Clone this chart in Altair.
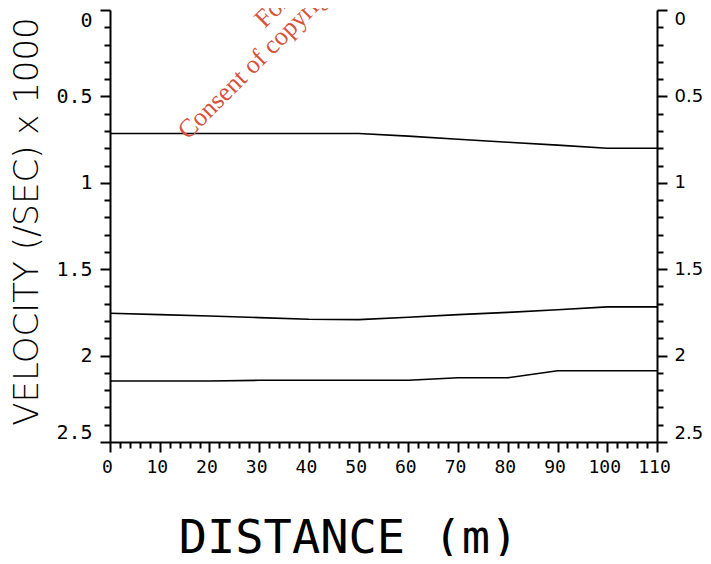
import altair as alt
import pandas as pd

# ---- data ----
distance = [0, 10, 20, 30, 40, 50, 60, 70, 80, 90, 100, 110]
layer_1 = [0.715, 0.715, 0.715, 0.715, 0.715, 0.715, 0.73, 0.748, 0.765, 0.782, 0.80, 0.80]
layer_2 = [1.755, 1.763, 1.771, 1.780, 1.790, 1.792, 1.778, 1.763, 1.750, 1.735, 1.718, 1.718]
layer_3 = [2.147, 2.147, 2.147, 2.143, 2.143, 2.143, 2.143, 2.128, 2.128, 2.088, 2.088, 2.088]

x_tick_values = list(range(0, 111, 2))
y_tick_values = [round(i * 0.1, 1) for i in range(26)]

wm_text = ["For inspection purposes only.",
           "Consent of copyright owner required for any other use."]
wm_x = [31.1, 15.7]
wm_y = [0.11, 0.755]

rows = []
for name, vals in [("1", layer_1), ("2", layer_2), ("3", layer_3)]:
    for d, v in zip(distance, vals):
        rows.append({"distance": d, "velocity": v, "layer": name})
df = pd.DataFrame(rows)
wm = pd.DataFrame({"text": wm_text, "x": wm_x, "y": wm_y})

FONT = "DejaVu Sans Mono"
xscale = alt.Scale(domain=[0, 110], nice=False, zero=False)
yscale = alt.Scale(domain=[0, 2.5], reverse=True, nice=False, zero=False)

x_axis = alt.Axis(
    orient="bottom", values=x_tick_values, grid=False,
    title="DISTANCE (m)",
    domainColor="black", domainWidth=2,
    tickColor="black", tickWidth=2,
    tickSize={"condition": {"test": "datum.value % 10 === 0", "value": 10}, "value": 6},
    labelExpr="datum.value % 10 === 0 ? datum.label : ''",
    format="d",
    labelFont=FONT, labelFontSize=18, labelColor="black",
    labelPadding=6, labelOverlap=False, labelOffset=-3, labelFlush=False,
    titleFont=FONT, titleFontSize=47, titleColor="black", titleFontWeight="normal",
    titleX=238, titleY=110, titleAlign="center", titleBaseline="alphabetic",
)

def y_axis(orient, title, label_font, label_size, pad):
    return alt.Axis(
        orient=orient, values=y_tick_values, grid=False,
        title=title,
        domainColor="black", domainWidth=2,
        tickColor="black", tickWidth=2,
        tickSize={"condition": {"test": "round(datum.value * 10) % 5 === 0", "value": 10}, "value": 6},
        labelExpr="round(datum.value * 10) % 5 === 0 ? datum.label : ''",
        format="~g",
        labelFont=label_font, labelFontSize=label_size, labelColor="black",
        labelPadding=pad, labelOverlap=False, labelFlush=True,
        titleFont="DejaVu Sans", titleFontSize=34, titleColor="black", titleFontWeight=200,
        titleAngle=270, titleX=-73, titleY=211, titleAlign="center", titleBaseline="alphabetic",
    )

lines = alt.Chart(df).mark_line(color="black", strokeWidth=1.6).encode(
    x=alt.X("distance:Q", scale=xscale, axis=x_axis),
    y=alt.Y("velocity:Q", scale=yscale,
            axis=y_axis("left", "VELOCITY (/SEC) x 1000", FONT, 20, 8)),
    detail="layer:N",
)

watermark = alt.Chart(wm).mark_text(
    angle=315, align="left", baseline="alphabetic",
    font="Liberation Serif", fontSize=26, color="#d5533d",
).encode(
    x=alt.X("x:Q", scale=xscale, axis=x_axis),
    y=alt.Y("y:Q", scale=yscale, axis=y_axis("right", "", "DejaVu Sans", 18, 7)),
    text="text:N",
)

chart = alt.layer(lines, watermark).resolve_axis(y="independent").properties(
    width=547, height=432,
    autosize=alt.AutoSizeParams(type="none"),
    padding={"left": 102, "top": 2, "right": 46, "bottom": 114},
).configure_view(stroke=None)

chart.save("out.html", embed_options={"renderer": "svg", "actions": False})
